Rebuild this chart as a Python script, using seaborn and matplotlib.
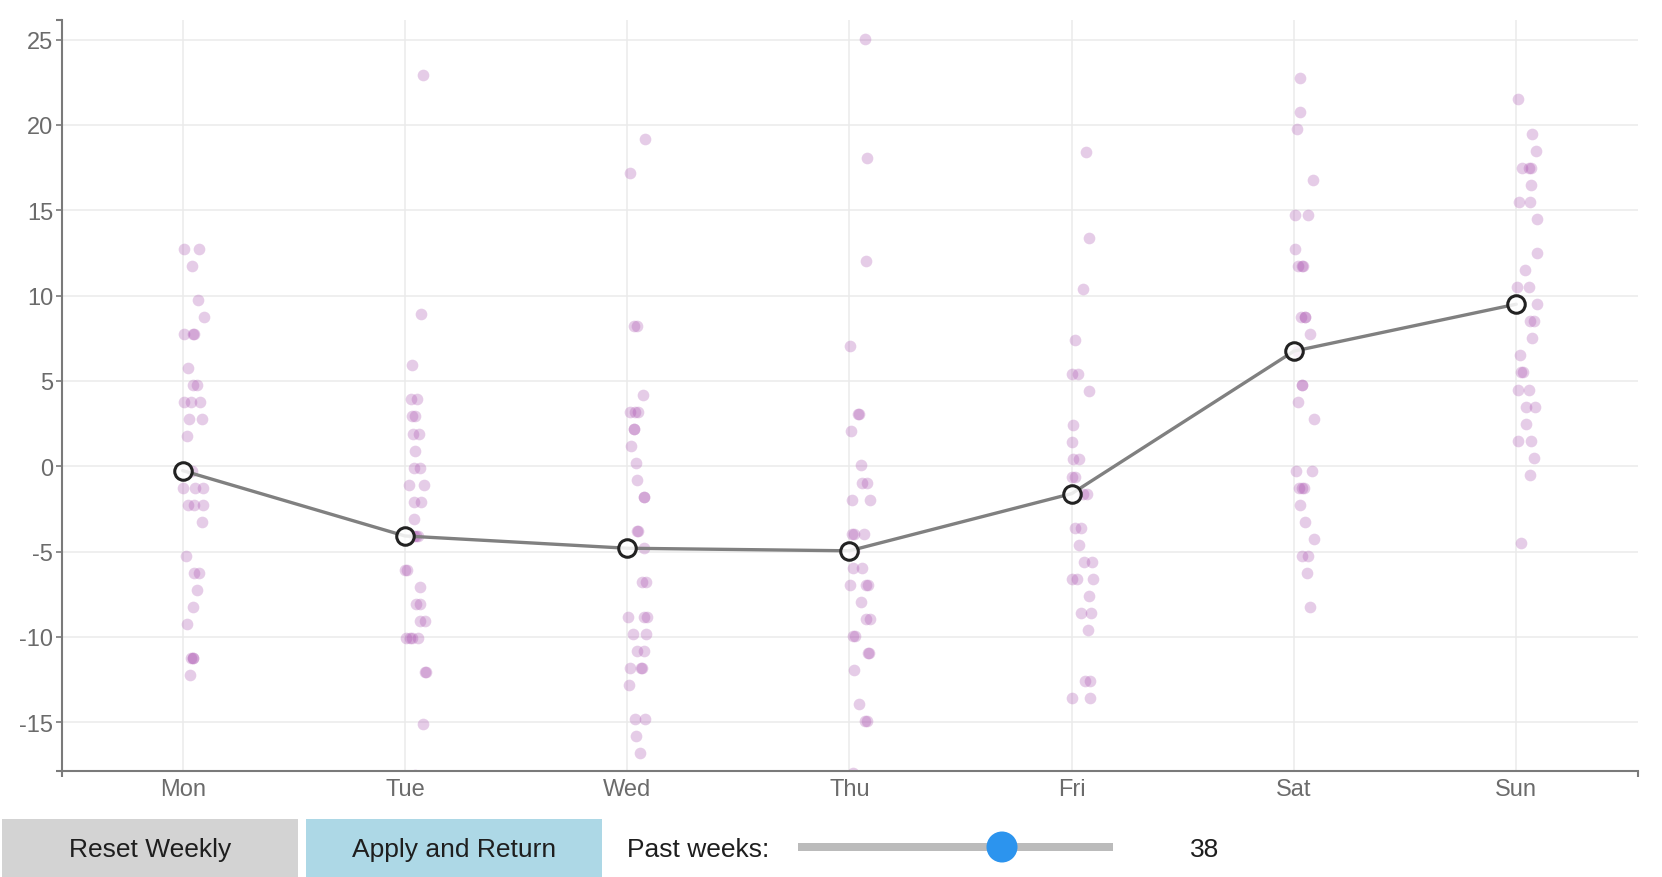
import numpy as np
import pandas as pd
import seaborn as sns
import matplotlib.pyplot as plt
from matplotlib.patches import Rectangle, Circle

# weekly deviations, one list per weekday
days = ["Mon", "Tue", "Wed", "Thu", "Fri", "Sat", "Sun"]
mon = [12.75, 12.75, 11.75, 9.75, 8.75, 7.75, 7.75, 7.75, 5.75, 4.75, 4.75,
       3.75, 3.75, 3.75, 2.75, 2.75, 1.75, -0.25, -1.25, -1.25, -1.25,
       -2.25, -2.25, -2.25, -3.25, -5.25, -6.25, -6.25, -7.25, -8.25,
       -9.25, -11.25, -11.25, -11.25, -12.25]
tue = [22.92, 8.92, 5.92, 3.92, 3.92, 2.92, 2.92, 1.92, 1.92, 0.92, -0.08,
       -0.08, -1.08, -1.08, -2.08, -2.08, -3.08, -4.08, -4.08, -4.08, -6.08,
       -6.08, -7.08, -8.08, -8.08, -9.08, -9.08, -10.08, -10.08, -10.08,
       -10.08, -12.08, -12.08, -15.08, -18.08]
wed = [19.2, 17.2, 8.2, 8.2, 4.2, 3.2, 3.2, 3.2, 2.2, 2.2, 1.2, 0.2, -0.8,
       -1.8, -1.8, -3.8, -3.8, -4.8, -6.8, -6.8, -8.8, -8.8, -8.8, -9.8,
       -9.8, -10.8, -10.8, -11.8, -11.8, -11.8, -12.8, -14.8, -14.8, -15.8,
       -16.8]
thu = [25.05, 18.05, 12.05, 7.05, 3.05, 3.05, 2.05, 0.05, -0.95, -0.95,
       -1.95, -1.95, -3.95, -3.95, -3.95, -4.95, -5.95, -5.95, -6.95, -6.95,
       -6.95, -7.95, -8.95, -8.95, -9.95, -9.95, -10.95, -10.95, -11.95,
       -13.95, -14.95, -14.95, -17.95]
fri = [18.4, 13.4, 10.4, 7.4, 5.4, 5.4, 4.4, 2.4, 1.4, 0.4, 0.4, -0.6, -0.6,
       -1.6, -1.6, -3.6, -3.6, -4.6, -5.6, -5.6, -6.6, -6.6, -6.6, -7.6,
       -8.6, -8.6, -9.6, -12.6, -12.6, -13.6, -13.6]
sat = [22.75, 20.75, 19.75, 16.75, 14.75, 14.75, 12.75, 11.75, 11.75, 11.75,
       8.75, 8.75, 8.75, 7.75, 6.75, 6.75, 4.75, 4.75, 3.75, 2.75, -0.25,
       -0.25, -1.25, -1.25, -1.25, -2.25, -3.25, -4.25, -5.25, -5.25, -6.25,
       -8.25]
sun = [21.5, 19.5, 18.5, 17.5, 17.5, 17.5, 16.5, 15.5, 15.5, 14.5, 12.5,
       11.5, 10.5, 10.5, 9.5, 8.5, 8.5, 7.5, 6.5, 5.5, 5.5, 4.5, 4.5, 3.5,
       3.5, 2.5, 1.5, 1.5, 0.5, -0.5, -4.5]
means = [-0.25, -4.08, -4.8, -4.95, -1.6, 6.75, 9.5]
yticks = [-15, -10, -5, 0, 5, 10, 15, 20, 25]
past_weeks = 38

per_day = [mon, tue, wed, thu, fri, sat, sun]
df = pd.DataFrame({
    "day": [d for d, vals in zip(days, per_day) for _ in vals],
    "delta": [v for vals in per_day for v in vals],
})

sns.set_theme(style="white")
plt.rcParams["font.family"] = ["Liberation Sans", "DejaVu Sans"]
plt.rcParams["axes.unicode_minus"] = False

W, H = 1662, 878
fig = plt.figure(figsize=(W / 100, H / 100), dpi=100)
ax = fig.add_axes([62 / W, 1 - 772.3 / H, (1638 - 62) / W, (772.3 - 20.7) / H])

axis_grey = "#7a7a7a"
np.random.seed(7)
sns.stripplot(data=df, x="day", y="delta", order=days, color="#a548ac",
              alpha=0.28, size=8.4, jitter=0.048, linewidth=0, ax=ax, zorder=1)
# one-sided jitter like the original
for coll in ax.collections:
    off = coll.get_offsets()
    off[:, 0] += 0.048
    coll.set_offsets(off)

sns.pointplot(x=days, y=means, order=days, color="#808080", errorbar=None,
              markers="o", linewidth=2.4, markersize=12.6,
              markeredgewidth=2.2, markeredgecolor="#222222",
              markerfacecolor=(1, 1, 1, 0.85), ax=ax, zorder=3)

xlim = (-0.543, 6.548)
ylim = (-17.87, 26.17)
ax.set_xlim(*xlim)
ax.set_ylim(*ylim)
ax.set_yticks(yticks)
ax.set_xticks(range(len(days)))
ax.set_xticklabels(days)
ax.set_xticks(list(xlim), minor=True)
ax.set_yticks(list(ylim), minor=True)
ax.set_xlabel("")
ax.set_ylabel("")

ax.grid(True, which="major", color="#ebebeb", linewidth=1.1)
ax.set_axisbelow(True)
for side in ["top", "right"]:
    ax.spines[side].set_visible(False)
for side in ["left", "bottom"]:
    ax.spines[side].set_color(axis_grey)
    ax.spines[side].set_linewidth(1.5)

ax.tick_params(axis="x", which="major", length=0, pad=5, labelsize=17,
               labelcolor="#6b6b6b")
ax.tick_params(axis="y", which="major", length=4.3, width=1.2, pad=2,
               color=axis_grey, labelsize=17, labelcolor="#6b6b6b", left=True)
ax.tick_params(which="minor", length=4.3, width=1.5, color=axis_grey,
               bottom=True, left=True, labelbottom=False, labelleft=False)

# controls strip under the chart
ui = fig.add_axes([0, 0, 1, 62 / H])
ui.set_xlim(0, W)
ui.set_ylim(H, H - 62)
ui.axis("off")
ui.add_patch(Rectangle((2, 820), 296, 60, color="#d3d3d3", lw=0))
ui.add_patch(Rectangle((306, 820), 296, 60, color="#add8e6", lw=0))
txt = dict(va="center", fontsize=19, color="#1e1e1e")
ui.text(150, 850, "Reset Weekly", ha="center", **txt)
ui.text(454, 850, "Apply and Return", ha="center", **txt)
ui.text(627, 850, "Past weeks:", ha="left", **txt)
ui.add_patch(Rectangle((798, 844), 315, 8, color="#bbbbbb", lw=0))
ui.add_patch(Circle((1002, 848), 15.5, color="#2c94ee", lw=0))
ui.text(1205, 850, str(past_weeks), ha="center", **txt)

fig.savefig("out.png", dpi=100)
